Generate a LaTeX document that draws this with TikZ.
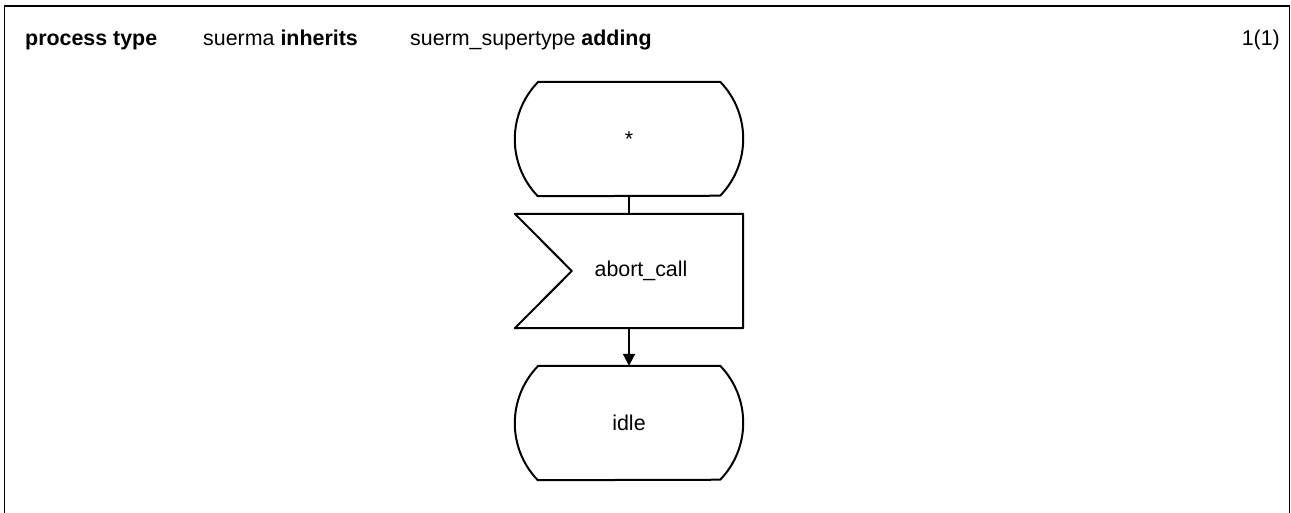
\documentclass[tikz,border=0pt]{standalone}
\usepackage{fontspec}
\setmainfont{Liberation Sans}
\usetikzlibrary{arrows.meta}

\begin{document}
\begin{tikzpicture}[x=1pt, y=1pt,
  font=\fontsize{21.4}{26}\selectfont,
  head/.style={anchor=base west, inner sep=0pt},
  sym/.style={minimum width=228pt, minimum height=114pt, inner sep=0pt},
  outline/.style={line width=2pt, line join=round},
  arr/.style={line width=2pt, -{Triangle[length=12pt, width=12pt]}}]
\useasboundingbox (0,0) rectangle (1291,-513);
%% frame, open at the bottom
\draw[line width=1.5pt] (4.5,-513) -- (4.5,-6) -- (1289.5,-6) -- (1289.5,-513);
%% heading
\node[head] (kind) at (25,-45.5) {\textbf{process type}};
\node[head] (name) at (203,-45.5) {suerma \textbf{inherits}};
\node[head] (super) at (410,-45.5) {suerm\_supertype \textbf{adding}};
\node[head, anchor=base east] (page) at (1280,-45.5) {1(1)};
%% symbols
\node[sym] (start) at (629,-139) {*};
\node[sym] (sig) at (629,-271) {\hspace*{24pt}abort\_call};
\node[sym] (idle) at (629,-423) {idle};
\foreach \n in {start,idle}
  \draw[outline] ([xshift=23pt]\n.north west) -- ([xshift=-23pt]\n.north east)
    arc[start angle=44, end angle=-44, radius=82pt] -- ([xshift=23pt]\n.south west)
    arc[start angle=224, end angle=136, radius=82pt] -- cycle;
\draw[outline] (sig.north west) -- (sig.north east) -- (sig.south east) -- (sig.south west)
  -- ([xshift=57pt]sig.west) -- cycle;
%% flow
\draw[line width=2pt] (start) -- (sig);
\draw[arr] (sig) -- (idle);
\end{tikzpicture}
\end{document}
